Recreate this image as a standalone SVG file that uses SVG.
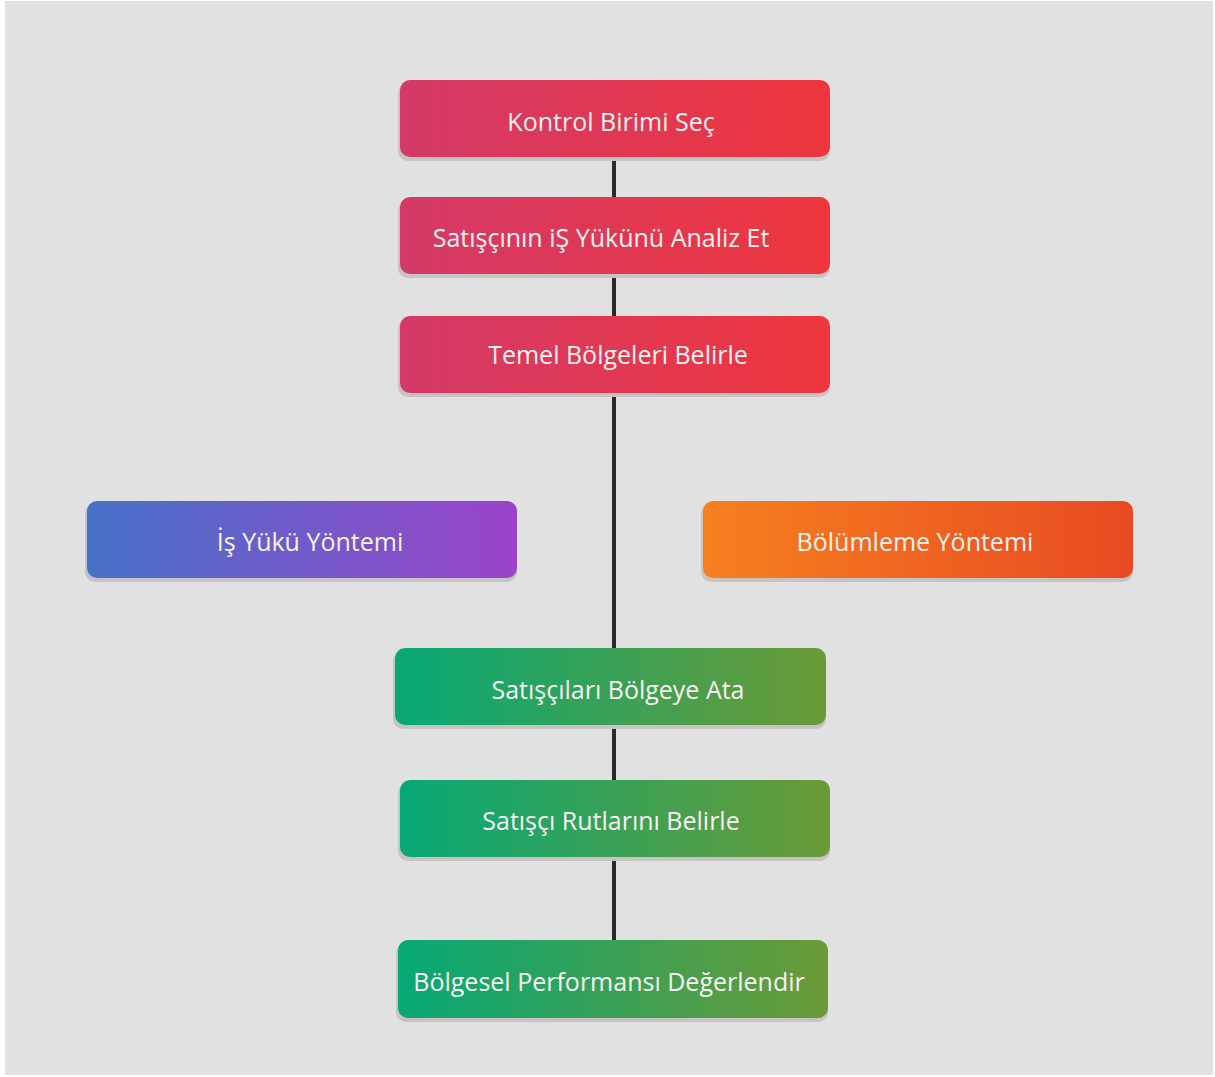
<svg xmlns="http://www.w3.org/2000/svg" width="1215" height="1077" viewBox="0 0 1215 1077">
<defs>
<linearGradient id="gRed" x1="0" y1="0" x2="1" y2="0"><stop offset="0" stop-color="#d33a68"/><stop offset="1" stop-color="#ee363e"/></linearGradient>
<linearGradient id="gPurple" x1="0" y1="0" x2="1" y2="0"><stop offset="0" stop-color="#4672c8"/><stop offset="1" stop-color="#9c43c8"/></linearGradient>
<linearGradient id="gOrange" x1="0" y1="0" x2="1" y2="0"><stop offset="0" stop-color="#f6801f"/><stop offset="1" stop-color="#e84a22"/></linearGradient>
<linearGradient id="gGreen" x1="0" y1="0" x2="1" y2="0"><stop offset="0" stop-color="#07a876"/><stop offset="1" stop-color="#6b9a37"/></linearGradient>
</defs>
<style>
.sh{fill:#c9c2c2;}
.lbl{font-family:"Open Sans","Noto Sans",sans-serif;font-size:25px;fill:#f8f2f2;text-anchor:middle;dominant-baseline:central;}
.conn{stroke:#2a2a2a;stroke-width:4;fill:none;}
</style>
<rect x="0" y="0" width="1215" height="1077" fill="#ffffff"/>
<rect x="5" y="1" width="1208" height="1074" fill="#e1e1e1"/>
<g id="connectors">
<line class="conn" x1="614" y1="157" x2="614" y2="197"/>
<line class="conn" x1="614" y1="274" x2="614" y2="316"/>
<line class="conn" x1="614" y1="393" x2="614" y2="648"/>
<line class="conn" x1="614" y1="725" x2="614" y2="780"/>
<line class="conn" x1="614" y1="857" x2="614" y2="940"/>
</g>
<g id="n1"><rect class="sh" x="398" y="83" width="432" height="78" rx="10"/><rect x="400" y="80" width="430" height="77" rx="10" fill="url(#gRed)"/><text class="lbl" x="611" y="121">Kontrol Birimi Seç</text></g>
<g id="n2"><rect class="sh" x="398" y="200" width="432" height="78" rx="10"/><rect x="400" y="197" width="430" height="77" rx="10" fill="url(#gRed)"/><text class="lbl" x="601" y="237">Satışçının iŞ Yükünü Analiz Et</text></g>
<g id="n3"><rect class="sh" x="398" y="319" width="432" height="78" rx="10"/><rect x="400" y="316" width="430" height="77" rx="10" fill="url(#gRed)"/><text class="lbl" x="618" y="354">Temel Bölgeleri Belirle</text></g>
<g id="n4"><rect class="sh" x="85" y="504" width="432" height="78" rx="10"/><rect x="87" y="501" width="430" height="77" rx="10" fill="url(#gPurple)"/><text class="lbl" x="310" y="541">İş Yükü Yöntemi</text></g>
<g id="n5"><rect class="sh" x="701" y="504" width="432" height="78" rx="10"/><rect x="703" y="501" width="430" height="77" rx="10" fill="url(#gOrange)"/><text class="lbl" x="915" y="541">Bölümleme Yöntemi</text></g>
<g id="n6"><rect class="sh" x="393" y="651" width="433" height="78" rx="10"/><rect x="395" y="648" width="431" height="77" rx="10" fill="url(#gGreen)"/><text class="lbl" x="618" y="689">Satışçıları Bölgeye Ata</text></g>
<g id="n7"><rect class="sh" x="398" y="783" width="432" height="78" rx="10"/><rect x="400" y="780" width="430" height="77" rx="10" fill="url(#gGreen)"/><text class="lbl" x="611" y="820">Satışçı Rutlarını Belirle</text></g>
<g id="n8"><rect class="sh" x="396" y="943" width="432" height="79" rx="10"/><rect x="398" y="940" width="430" height="78" rx="10" fill="url(#gGreen)"/><text class="lbl" x="609" y="981">Bölgesel Performansı Değerlendir</text></g>
</svg>
